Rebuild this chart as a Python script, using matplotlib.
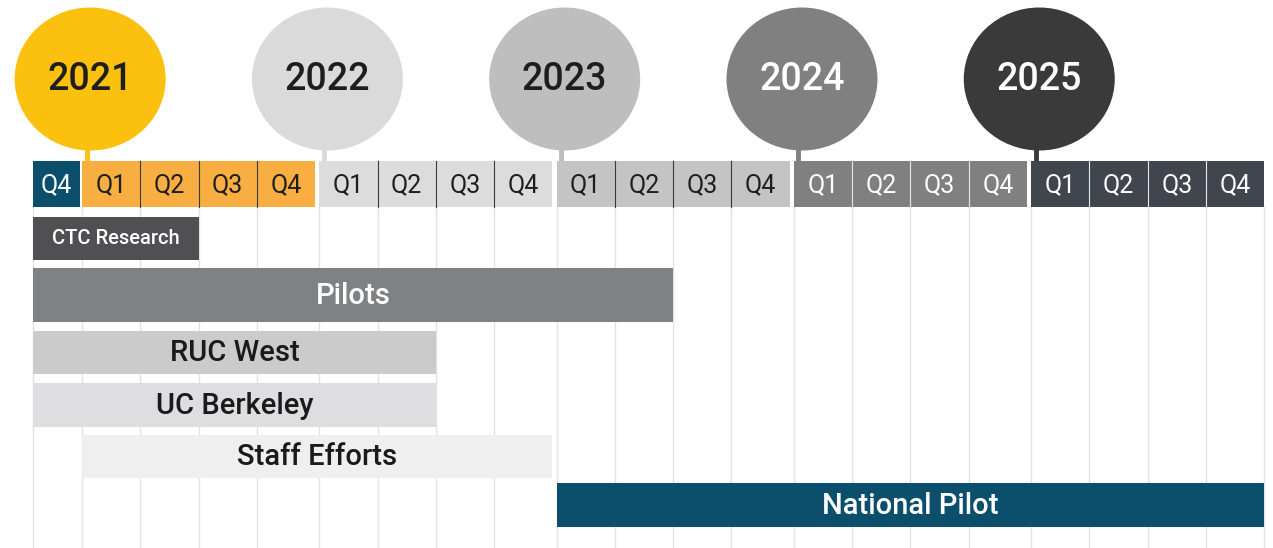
import matplotlib
matplotlib.use("Agg")
import matplotlib.pyplot as plt
from matplotlib.patches import Ellipse, Rectangle

plt.rcParams["font.family"] = ["Roboto", "DejaVu Sans"]
plt.rcParams["font.weight"] = "medium"

# quarter header cells (index 0 = Q4 2020)
quarter_labels = ["Q4",
                  "Q1", "Q2", "Q3", "Q4",
                  "Q1", "Q2", "Q3", "Q4",
                  "Q1", "Q2", "Q3", "Q4",
                  "Q1", "Q2", "Q3", "Q4",
                  "Q1", "Q2", "Q3", "Q4"]
quarter_years = [2020] + [2021] * 4 + [2022] * 4 + [2023] * 4 + [2024] * 4 + [2025] * 4

years = [2021, 2022, 2023, 2024, 2025]

# tasks: first and last quarter index (inclusive)
tasks = ["CTC Research", "Pilots", "RUC West", "UC Berkeley", "Staff Efforts", "National Pilot"]
task_start = [0, 0, 0, 0, 1, 9]
task_end = [2, 10, 6, 6, 8, 20]

# styles
cell_color = {2020: "#0b4f6c", 2021: "#f8ae40", 2022: "#dcdcdc", 2023: "#c4c4c4",
              2024: "#808080", 2025: "#41464e"}
cell_text = {2020: "white", 2021: "#1e1e1e", 2022: "#1e1e1e", 2023: "#1e1e1e",
             2024: "white", 2025: "white"}
cell_edge = {2020: "white", 2021: "#3a3a3a", 2022: "#3a3a3a", 2023: "#3a3a3a",
             2024: "#e8e8e8", 2025: "#e8e8e8"}
circle_color = {2021: "#fcc10f", 2022: "#dadada", 2023: "#bebebe", 2024: "#808080", 2025: "#3a3a3a"}
circle_text = {2021: "#1e1e1e", 2022: "#1e1e1e", 2023: "#1e1e1e", 2024: "white", 2025: "white"}

task_color = ["#505052", "#808184", "#cbcbcc", "#dedee0", "#efefef", "#0b4f6c"]
task_text = ["white", "white", "#1a1a1a", "#1a1a1a", "#1a1a1a", "white"]
task_y = [238, 295, 352, 405, 456, 505]
task_h = [43, 54, 43, 44, 43, 44]
task_fs = [14.5, 21, 21, 21, 21, 21]

FIRST_W = 0.8
YEAR_GAP = 0.07
PX = 58.3   # pixels per quarter
X0 = 33     # left pixel of first cell


def q_left(i):
    if i == 0:
        return 0.0
    return FIRST_W + 0.04 + (i - 1) + YEAR_GAP * ((i - 1) // 4)


def q_width(i):
    return FIRST_W if i == 0 else 1.0


fig = plt.figure(figsize=(12.73, 5.48), dpi=100)
ax = fig.add_axes([0, 0, 1, 1])
ax.set_xlim(-X0 / PX, (1273 - X0) / PX)
ax.set_ylim(548, 0)
ax.axis("off")

n = len(quarter_labels)

# vertical grid lines
grid_x = [q_left(i) for i in range(n)] + [q_left(n - 1) + q_width(n - 1)]
for gx in grid_x:
    ax.plot([gx, gx], [207, 548], color="#e2e2e2", lw=1, zorder=1)

# header cells
row_top, row_h = 161, 46
for i, (lab, yr) in enumerate(zip(quarter_labels, quarter_years)):
    x = q_left(i)
    w = q_width(i)
    ax.add_patch(Rectangle((x, row_top), w, row_h, facecolor=cell_color[yr],
                           edgecolor="none", zorder=3))
    if i > 0 and quarter_years[i - 1] == yr:
        ax.plot([x, x], [row_top, row_top + row_h], color=cell_edge[yr], lw=0.8, zorder=4)
    ax.text(x + w / 2, row_top + row_h / 2 + 1, lab, ha="center", va="center",
            fontsize=18, fontweight="normal", color=cell_text[yr], zorder=5)

# year circles with stems
for yr in years:
    i = quarter_years.index(yr)
    cx = q_left(i) + 0.14
    ax.plot([q_left(i) + 0.08] * 2, [120, row_top + 2], color=circle_color[yr],
            lw=3.5, solid_capstyle="butt", zorder=2)
    ax.add_patch(Ellipse((cx, 79), 151 / PX, 143, facecolor=circle_color[yr],
                         edgecolor="none", zorder=3))
    ax.text(cx, 79, str(yr), ha="center", va="center", fontsize=27,
            fontweight="medium", color=circle_text[yr], zorder=5)

# task bars
for k, name in enumerate(tasks):
    x0 = q_left(task_start[k])
    x1 = q_left(task_end[k]) + q_width(task_end[k])
    ax.barh(task_y[k], x1 - x0, left=x0, height=task_h[k], color=task_color[k],
            edgecolor="none", zorder=2)
    ax.text((x0 + x1) / 2, task_y[k] + 1, name, ha="center", va="center",
            fontsize=task_fs[k], color=task_text[k], zorder=5)

fig.savefig("out.png", dpi=100)
